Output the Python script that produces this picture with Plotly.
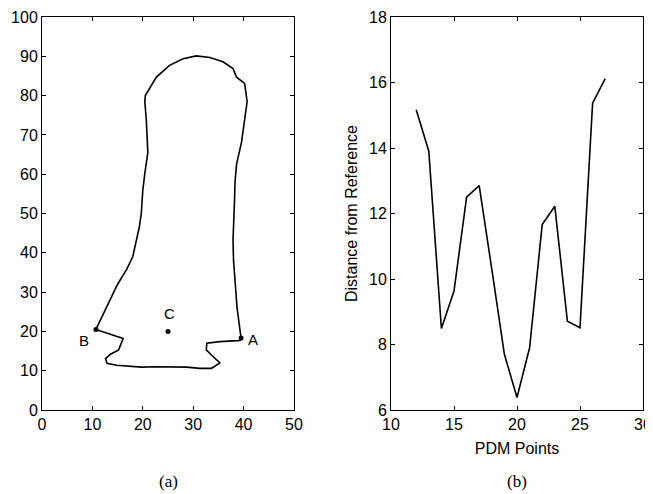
import plotly.graph_objects as go
from plotly.subplots import make_subplots

# ---- panel (a): outline contour ----
outline_x = [10.7, 12.8, 15.0, 16.8, 18.0, 18.7, 19.3, 19.7, 20.0, 20.4, 21.0, 20.7, 20.4, 20.5,
             21.4, 22.7, 25.3, 28.0, 30.6, 33.3, 35.9, 37.9, 38.6, 40.2, 40.7, 40.4, 39.6,
             38.6, 38.3, 38.2, 38.0, 37.9, 38.0, 38.5, 38.7, 39.5, 39.3, 37.9, 35.3, 32.7,
             32.6, 33.6, 35.3, 33.6, 31.3, 28.7, 24.7, 22.4, 19.7, 17.4, 14.8, 12.9, 12.6,
             13.6, 15.2, 16.1, 10.7]
outline_y = [20.5, 26.3, 32.0, 35.8, 39.0, 43.0, 46.5, 50.0, 55.9, 60.2, 65.5, 73.7, 78.5, 80.0,
             81.8, 84.7, 87.7, 89.4, 90.1, 89.7, 88.6, 86.9, 84.7, 83.1, 78.5, 75.4, 68.2,
             62.5, 58.0, 53.4, 46.6, 43.2, 38.1, 30.5, 26.0, 18.3, 17.7, 17.6, 17.4, 17.0,
             15.3, 14.0, 12.0, 10.6, 10.6, 10.9, 11.0, 11.0, 10.9, 11.2, 11.4, 11.9, 13.1,
             14.2, 15.3, 18.2, 20.5]
marker_names = ["A", "B", "C"]
marker_x = [39.5, 10.7, 25.0]
marker_y = [18.3, 20.5, 20.0]
label_x = [41.8, 8.4, 25.3]
label_y = [18.0, 17.8, 24.6]

# ---- panel (b): distance from reference ----
pdm_points = [12, 13, 14, 15, 16, 17, 18, 19, 20, 21, 22, 23, 24, 25, 26, 27]
distance = [15.17, 13.9, 8.49, 9.63, 12.5, 12.85, 10.3, 7.7, 6.38, 7.9, 11.66, 12.22,
            8.71, 8.51, 15.37, 16.12]

# page offset (default body margin) and figure size
OFF = 8
W, H = 653 - OFF, 494 - OFF


def fx(px):
    return (px - OFF) / W


def fy(py):
    return 1 - (py - OFF) / H


fig = make_subplots(rows=1, cols=2)

fig.add_trace(go.Scatter(x=outline_x, y=outline_y, mode="lines",
                         line=dict(color="black", width=1.6), showlegend=False), row=1, col=1)
fig.add_trace(go.Scatter(x=marker_x, y=marker_y, mode="markers",
                         marker=dict(color="black", size=5), showlegend=False), row=1, col=1)
fig.add_trace(go.Scatter(x=pdm_points, y=distance, mode="lines",
                         line=dict(color="black", width=1.6), showlegend=False), row=1, col=2)

for n, lx, ly in zip(marker_names, label_x, label_y):
    fig.add_annotation(x=lx, y=ly, xref="x", yref="y", text=n, showarrow=False,
                       font=dict(family="Liberation Sans", size=15, color="black"))

fig.add_annotation(x=fx(168), y=fy(481), xref="paper", yref="paper", text="(a)",
                   xanchor="center", yanchor="middle",
                   showarrow=False, font=dict(family="Liberation Serif", size=17, color="black"))
fig.add_annotation(x=fx(517), y=fy(481), xref="paper", yref="paper", text="(b)",
                   xanchor="center", yanchor="middle",
                   showarrow=False, font=dict(family="Liberation Serif", size=17, color="black"))

axis_style = dict(showline=True, linecolor="black", linewidth=1, mirror="allticks",
                  ticks="inside", ticklen=4, tickcolor="black", showgrid=False, zeroline=False,
                  automargin=False, ticklabeloverflow="allow",
                  tickfont=dict(family="Liberation Sans", size=16, color="black"))

ydom = [fy(410), fy(17)]
fig.update_xaxes(domain=[fx(42), fx(294)], range=[0, 50], dtick=10, row=1, col=1, **axis_style)
fig.update_yaxes(domain=ydom, range=[0, 100], dtick=10, row=1, col=1, **axis_style)
fig.update_xaxes(domain=[fx(391), fx(643)], range=[10, 30], dtick=5, row=1, col=2,
                 title=dict(text="PDM Points", standoff=10,
                            font=dict(family="Liberation Sans", size=16, color="black")),
                 **axis_style)
fig.update_yaxes(domain=ydom, range=[6, 18], dtick=2, row=1, col=2,
                 title=dict(text="Distance from Reference", standoff=7,
                            font=dict(family="Liberation Sans", size=16, color="black")),
                 **axis_style)

fig.update_layout(width=W, height=H, margin=dict(l=0, r=0, t=0, b=0),
                  plot_bgcolor="white", paper_bgcolor="white")

fig.write_html("out.html")
